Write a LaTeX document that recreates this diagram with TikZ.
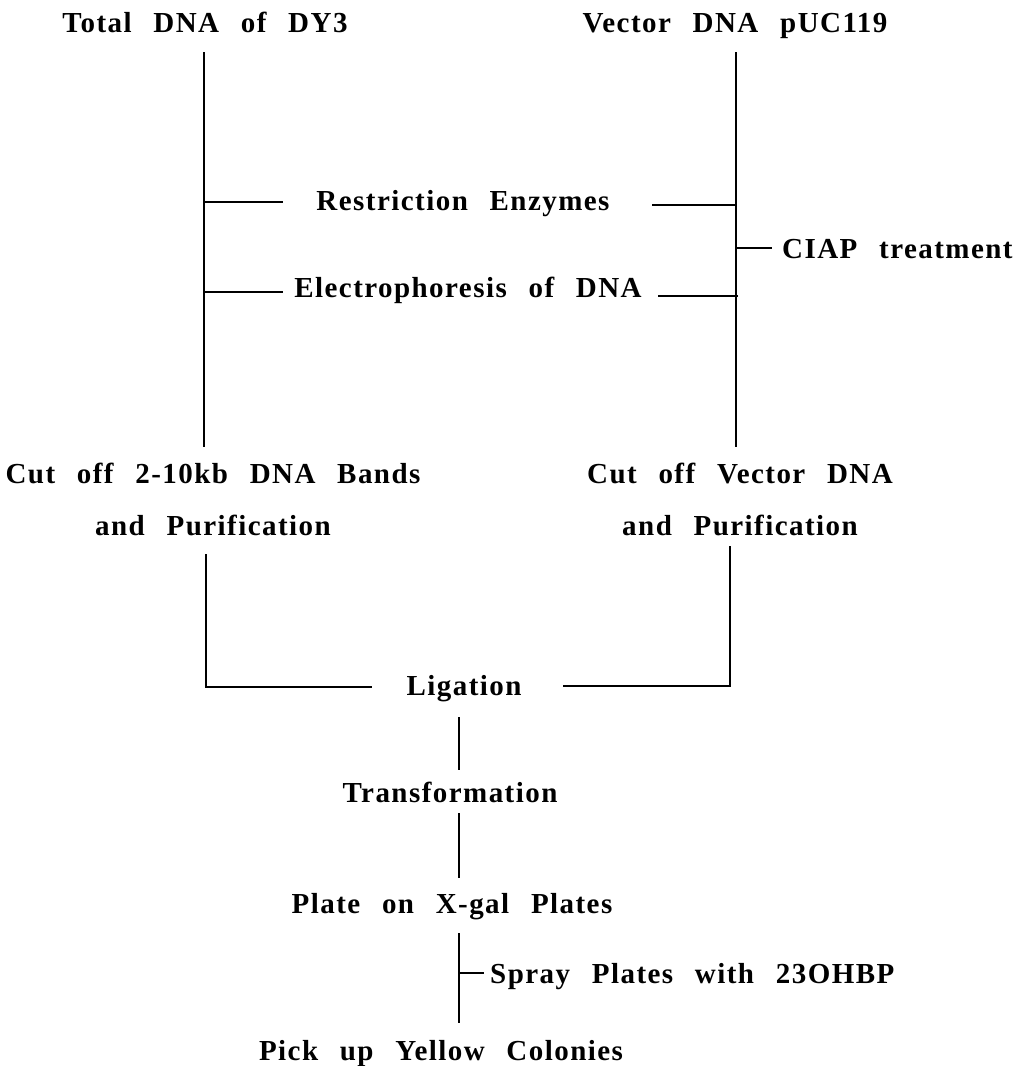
\documentclass[tikz,border=0pt]{standalone}
\usepackage{fontspec}
\newfontfamily\flowfont{Liberation Serif}[LetterSpace=5,WordSpace=2.5]
\usetikzlibrary{positioning}

\tikzset{
  lbl/.style={font=\flowfont\bfseries\fontsize{29}{31}\selectfont,inner sep=0pt,anchor=base},
  link/.style={line width=2pt}
}

\begin{document}
\begin{tikzpicture}[x=1pt,y=-1pt]
  \useasboundingbox (0,0) rectangle (1019,1066);
  % step labels
  \node[lbl] (total) at (205,32) {Total DNA of DY3};
  \node[lbl] (vector) at (735,32) {Vector DNA pUC119};
  \node[lbl] (restr) at (463,210) {Restriction Enzymes};
  \node[lbl,anchor=base west] (ciap) at (782,258) {CIAP treatment};
  \node[lbl] (electro) at (468,297) {Electrophoresis of DNA};
  \node[lbl] (cutl) at (213,483) {Cut off 2-10kb DNA Bands};
  \node[lbl] (purl) at (213,535) {and Purification};
  \node[lbl] (cutr) at (740,483) {Cut off Vector DNA};
  \node[lbl] (purr) at (740,535) {and Purification};
  \node[lbl] (lig) at (464,695) {Ligation};
  \node[lbl] (trans) at (450,802) {Transformation};
  \node[lbl] (plate) at (452,913) {Plate on X-gal Plates};
  \node[lbl,anchor=base west] (spray) at (490,983) {Spray Plates with 23OHBP};
  \node[lbl] (pick) at (441,1060) {Pick up Yellow Colonies};
  % line ends
  \coordinate (lt) at (204,52);   \coordinate (lb) at (204,447);
  \coordinate (rt) at (736,52);   \coordinate (rb) at (736,447);
  \coordinate (lre) at (204,202); \coordinate (lre2) at (283,202);
  \coordinate (lel) at (204,292); \coordinate (lel2) at (283,292);
  \coordinate (rre) at (736,205); \coordinate (rre2) at (652,205);
  \coordinate (rel) at (738,296); \coordinate (rel2) at (658,296);
  \coordinate (rci) at (736,248); \coordinate (rci2) at (772,248);
  \coordinate (pl) at (206,554);  \coordinate (plc) at (206,687); \coordinate (plg) at (372,687);
  \coordinate (pr) at (730,546);  \coordinate (prc) at (730,686); \coordinate (prg) at (563,686);
  \coordinate (c1) at (459,717);  \coordinate (c2) at (459,770);
  \coordinate (c3) at (459,813);  \coordinate (c4) at (459,878);
  \coordinate (c5) at (459,933);  \coordinate (c6) at (459,1023);
  \coordinate (sp) at (459,973);  \coordinate (sp2) at (484,973);
  % connectors
  \draw[link] (lt) -- (lb);
  \draw[link] (rt) -- (rb);
  \draw[link] (lre) -- (lre2);
  \draw[link] (lel) -- (lel2);
  \draw[link] (rre) -- (rre2);
  \draw[link] (rel) -- (rel2);
  \draw[link] (rci) -- (rci2);
  \draw[link] (pl) -- (plc) -- (plg);
  \draw[link] (pr) -- (prc) -- (prg);
  \draw[link] (c1) -- (c2);
  \draw[link] (c3) -- (c4);
  \draw[link] (c5) -- (c6);
  \draw[link] (sp) -- (sp2);
\end{tikzpicture}
\end{document}
